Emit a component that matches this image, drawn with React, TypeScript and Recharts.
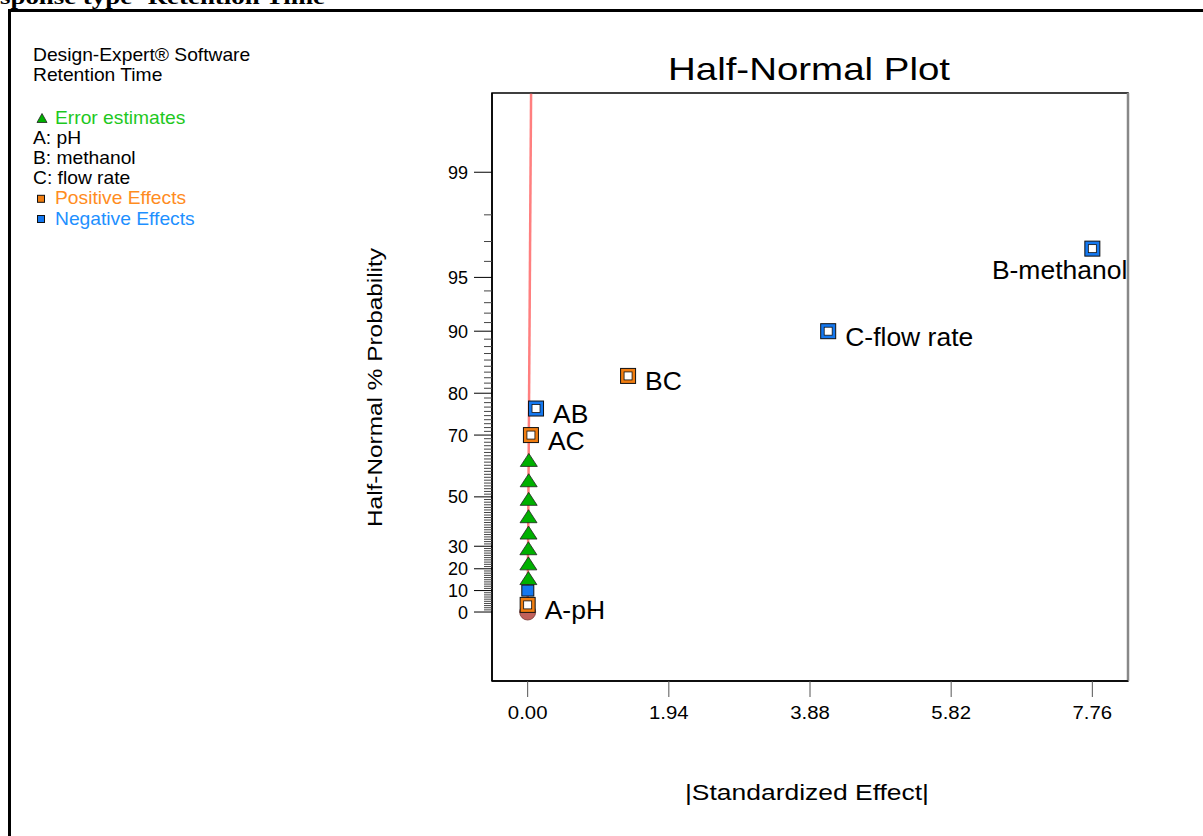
import { ScatterChart, Scatter, XAxis, YAxis, ReferenceArea, ReferenceLine } from "recharts";

// ranks on the half-normal plot, read as probability in percent
const errorProbs = [16.67, 23.33, 30, 36.67, 43.33, 50, 56.67, 63.33];
const errorEffects = [0.01, 0.01, 0.01, 0.012, 0.012, 0.014, 0.014, 0.016];

const effectTerms = ["A", "ABC", "AC", "AB", "BC", "C", "B"];
const effectLabels = ["A-pH", "", "AC", "AB", "BC", "C-flow rate", "B-methanol"];
const effectSigns = ["+", "-", "+", "-", "+", "-", "-"];
const effectProbs = [3.33, 10, 70, 76.67, 83.33, 90, 96.67];
const effectValues = [0.0, 0.002, 0.045, 0.115, 1.38, 4.13, 7.76];

const originProbs = [0];
const originEffects = [0];

const fitLineProbs = [0, 99.76];
const fitLineEffects = [0, 0.047];

const xTicks = [0, 1.94, 3.88, 5.82, 7.76];
const yTickLabels = [0, 10, 20, 30, 50, 70, 80, 90, 95, 99];
const yTickPercents = Array.from({ length: 100 }, (_, i) => i);

const legendItems = [
  { text: "Error estimates", color: "#1ec81e", symbol: "triangle" },
  { text: "A: pH", color: "#000" },
  { text: "B: methanol", color: "#000" },
  { text: "C: flow rate", color: "#000" },
  { text: "Positive Effects", color: "#ff8c1e", symbol: "pos" },
  { text: "Negative Effects", color: "#1e90ff", symbol: "neg" },
];

const FONT = "'Liberation Sans', Arial, sans-serif";
const ORANGE = "#f07d10";
const BLUE = "#1478f0";
const GREEN = "#00b000";

// inverse standard normal cdf (Acklam)
function probit(p: number) {
  const a = [-3.969683028665376e1, 2.209460984245205e2, -2.759285104469687e2, 1.38357751867269e2, -3.066479806614716e1, 2.506628277459239];
  const b = [-5.447609879822406e1, 1.615858368580409e2, -1.556989798598866e2, 6.680131188771972e1, -1.328068155288572e1];
  const c = [-7.784894002430293e-3, -3.223964580411365e-1, -2.400758277161838, -2.549732539343734, 4.374664141464968, 2.938163982698783];
  const d = [7.784695709041462e-3, 3.224671290700398e-1, 2.445134137142996, 3.754408661907416];
  const pl = 0.02425;
  if (p < pl) {
    const q = Math.sqrt(-2 * Math.log(p));
    return (((((c[0] * q + c[1]) * q + c[2]) * q + c[3]) * q + c[4]) * q + c[5]) / ((((d[0] * q + d[1]) * q + d[2]) * q + d[3]) * q + 1);
  }
  if (p > 1 - pl) {
    const q = Math.sqrt(-2 * Math.log(1 - p));
    return -(((((c[0] * q + c[1]) * q + c[2]) * q + c[3]) * q + c[4]) * q + c[5]) / ((((d[0] * q + d[1]) * q + d[2]) * q + d[3]) * q + 1);
  }
  const q = p - 0.5;
  const r = q * q;
  return ((((((a[0] * r + a[1]) * r + a[2]) * r + a[3]) * r + a[4]) * r + a[5]) * q) / (((((b[0] * r + b[1]) * r + b[2]) * r + b[3]) * r + b[4]) * r + 1);
}
const halfNormal = (pct: number) => probit(0.5 + pct / 200);

const errorData = errorProbs.map((p, i) => ({ effect: errorEffects[i], z: halfNormal(p) }));
const effectData = effectTerms.map((term, i) => ({
  term,
  label: effectLabels[i],
  sign: effectSigns[i],
  effect: effectValues[i],
  z: halfNormal(effectProbs[i]),
}));
const originData = originProbs.map((p, i) => ({ effect: originEffects[i], z: halfNormal(p) }));
const fitLine = fitLineProbs.map((p, i) => ({ effect: fitLineEffects[i], z: halfNormal(p) }));
const yTicks = yTickPercents.map(halfNormal);

const X_DOMAIN: [number, number] = [-0.49, 8.25];
const Y_DOMAIN: [number, number] = [-0.404, 3.04];

const labelOffsets: Record<string, { dx: number; dy: number; anchor: "start" | "end" }> = {
  B: { dx: 35, dy: 30, anchor: "end" },
};

const YTick = (props: any) => {
  const { x, y, index } = props;
  const pct = yTickPercents[index];
  const major = yTickLabels.includes(pct);
  return (
    <g>
      <line x1={x - (major ? 18 : 8)} x2={x} y1={y} y2={y} stroke={major ? "#000" : "#444"} strokeWidth={1} />
      {major && (
        <text x={x - 24} y={y} dy="0.36em" textAnchor="end" fontSize={18} fontFamily={FONT} fill="#000">
          {pct}
        </text>
      )}
    </g>
  );
};

const XTick = (props: any) => {
  const { x, y, payload } = props;
  return (
    <text
      transform={`translate(${x} ${y}) scale(1.1 1)`}
      dy="0.71em"
      textAnchor="middle"
      fontSize={18.5}
      fontFamily={FONT}
      fill="#000"
    >
      {Number(payload.value).toFixed(2)}
    </text>
  );
};

const Triangle = (props: any) => {
  const { cx, cy } = props;
  if (cx == null || cy == null) return <g />;
  return (
    <polygon
      points={`${cx},${cy - 4.5} ${cx + 8.5},${cy + 8.5} ${cx - 8.5},${cy + 8.5}`}
      fill={GREEN}
      stroke="#222"
      strokeWidth={0.8}
    />
  );
};

const Origin = (props: any) => {
  const { cx, cy } = props;
  if (cx == null || cy == null) return <g />;
  return <circle cx={cx} cy={cy} r={8} fill="#c0605a" stroke="#7a3a35" strokeWidth={0.8} />;
};

const EffectMarker = (props: any) => {
  const { cx, cy, payload } = props;
  if (cx == null || cy == null) return <g />;
  const fill = payload.sign === "+" ? ORANGE : BLUE;
  if (!payload.label) {
    return <rect x={cx - 6} y={cy - 5.5} width={12} height={11} fill={fill} stroke="#111" strokeWidth={1} />;
  }
  const off = labelOffsets[payload.term] || { dx: 17, dy: 14.5, anchor: "start" };
  return (
    <g>
      <rect x={cx - 7.5} y={cy - 7.5} width={15} height={15} fill={fill} stroke="#111" strokeWidth={1} />
      <rect x={cx - 4} y={cy - 4} width={8} height={8} fill="#fff" stroke="#111" strokeWidth={0.8} />
      <text
        transform={`translate(${cx + off.dx} ${cy + off.dy}) scale(1.06 1)`}
        textAnchor={off.anchor}
        fontSize={25}
        fontFamily={FONT}
        fill="#000"
      >
        {payload.label}
      </text>
    </g>
  );
};

const NoDot = () => <g />;

export default function App() {
  return (
    <div style={{ position: "fixed", left: 0, top: 0, width: 1203, height: 836, background: "#fff", overflow: "hidden" }}>
      <div
        style={{
          position: "absolute",
          left: 8,
          top: 9,
          width: 1400,
          height: 1000,
          borderLeft: "3px solid #000",
          borderTop: "3px solid #000",
        }}
      />
      <div style={{ position: "absolute", left: 0, top: 0 }}>
        <ScatterChart width={1203} height={836} margin={{ top: 93, right: 75, bottom: 95, left: 0 }}>
          <XAxis
            dataKey="effect"
            type="number"
            domain={X_DOMAIN}
            allowDataOverflow
            ticks={xTicks}
            interval={0}
            height={60}
            tickSize={16}
            tickMargin={9}
            tick={<XTick />}
            tickLine={{ stroke: "#555" }}
            axisLine={{ stroke: "#000", strokeWidth: 1.5 }}
          />
          <YAxis
            dataKey="z"
            type="number"
            domain={Y_DOMAIN}
            allowDataOverflow
            ticks={yTicks}
            interval={0}
            width={492}
            tickSize={0}
            tickMargin={0}
            tickLine={false}
            tick={<YTick />}
            axisLine={{ stroke: "#000", strokeWidth: 1.5 }}
          />
          <ReferenceArea
            x1={X_DOMAIN[0]}
            x2={X_DOMAIN[1]}
            y1={Y_DOMAIN[0]}
            y2={Y_DOMAIN[1]}
            fill="none"
            fillOpacity={0}
            stroke="#000"
            strokeWidth={1.5}
            ifOverflow="visible"
          />
          <ReferenceLine x={X_DOMAIN[1]} stroke="#888" strokeWidth={2.5} ifOverflow="visible" />
          <Scatter data={fitLine} line={{ stroke: "#ff7f7f", strokeWidth: 2.5 }} shape={NoDot} isAnimationActive={false} />
          <Scatter data={originData} shape={Origin} isAnimationActive={false} />
          <Scatter data={errorData} shape={Triangle} isAnimationActive={false} />
          <Scatter data={effectData} shape={EffectMarker} isAnimationActive={false} />
        </ScatterChart>
      </div>
      <svg width={1203} height={836} style={{ position: "absolute", left: 0, top: 0, pointerEvents: "none" }}>
        <text x={0} y={4} fontFamily="'Liberation Serif', 'Times New Roman', serif" fontWeight="bold" fontSize={22} textLength={325} lengthAdjust="spacingAndGlyphs">
          sponse type- Retention Time
        </text>
        <g fontFamily={FONT} fontSize={17.5}>
          <text transform="translate(33 61) scale(1.1 1)">Design-Expert® Software</text>
          <text transform="translate(33 81) scale(1.1 1)">Retention Time</text>
          {legendItems.map((item, i) => {
            const y = 123.5 + i * 20.2;
            const x = item.symbol ? 55 : 33;
            return (
              <g key={item.text}>
                {item.symbol === "triangle" && (
                  <polygon points={`42,${y - 10} 47,${y - 1} 37,${y - 1}`} fill={GREEN} stroke="#222" strokeWidth={0.8} />
                )}
                {item.symbol === "pos" && <rect x={37.5} y={y - 9} width={7} height={7} fill={ORANGE} stroke="#111" strokeWidth={1} />}
                {item.symbol === "neg" && <rect x={37.5} y={y - 9} width={7} height={7} fill={BLUE} stroke="#111" strokeWidth={1} />}
                <text transform={`translate(${x} ${y}) scale(1.1 1)`} fill={item.color}>
                  {item.text}
                </text>
              </g>
            );
          })}
        </g>
        <text x={809} y={80} textAnchor="middle" fontFamily={FONT} fontSize={32} textLength={282} lengthAdjust="spacingAndGlyphs">
          Half-Normal Plot
        </text>
        <text
          x={0}
          y={0}
          transform="translate(382 387.5) rotate(-90)"
          textAnchor="middle"
          fontFamily={FONT}
          fontSize={21}
          textLength={279}
          lengthAdjust="spacingAndGlyphs"
        >
          Half-Normal % Probability
        </text>
        <text x={807} y={800} textAnchor="middle" fontFamily={FONT} fontSize={22} textLength={244} lengthAdjust="spacingAndGlyphs">
          |Standardized Effect|
        </text>
      </svg>
    </div>
  );
}
